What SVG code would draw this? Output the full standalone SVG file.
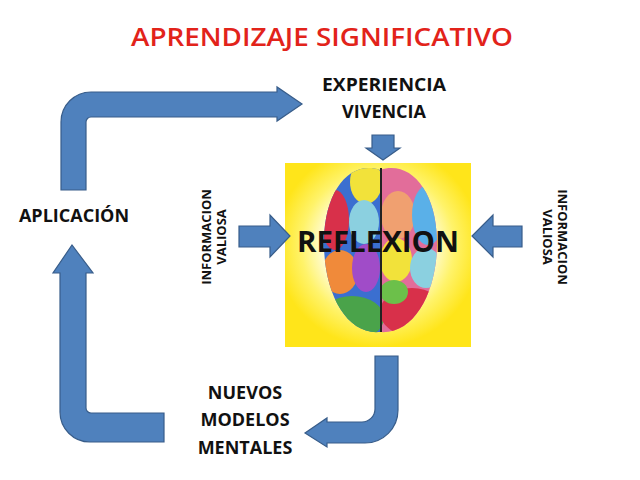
<svg xmlns="http://www.w3.org/2000/svg" width="640" height="480" viewBox="0 0 640 480">
<style>
.a{fill:#4f81bd;stroke:#385d8a;stroke-width:1.2}
.t{font-family:"Open Sans","Liberation Sans",sans-serif;font-weight:bold;fill:#111;text-anchor:middle}
</style>
<defs>
<radialGradient id="g" cx="0.5" cy="0.45" r="0.55">
<stop offset="0.45" stop-color="#ffffff"/><stop offset="0.75" stop-color="#fff36a"/><stop offset="1" stop-color="#ffe51a"/>
</radialGradient>
<clipPath id="c"><path d="M380,170 C350,160 325,190 324,240 C323,290 345,335 380,332 C415,335 438,290 437,240 C436,190 410,160 380,170 Z"/></clipPath>
</defs>
<rect width="640" height="480" fill="#fff"/>
<text x="322" y="46" font-family="Open Sans,Liberation Sans,sans-serif" font-weight="600" font-size="26" fill="#e2231a" text-anchor="middle" textLength="382" lengthAdjust="spacingAndGlyphs">APRENDIZAJE SIGNIFICATIVO</text>
<g id="reflexion">
<rect x="285" y="163" width="186" height="184" fill="url(#g)"/>
<g clip-path="url(#c)">
<rect x="320" y="160" width="61" height="180" fill="#3b6fd0"/>
<rect x="381" y="160" width="62" height="180" fill="#e26d9a"/>
<ellipse cx="366" cy="182" rx="16" ry="22" fill="#f2e23a"/>
<ellipse cx="335" cy="220" rx="14" ry="30" fill="#d8304a"/>
<ellipse cx="364" cy="222" rx="15" ry="22" fill="#8bd0e0"/>
<ellipse cx="340" cy="272" rx="18" ry="22" fill="#f08a3a"/>
<ellipse cx="366" cy="268" rx="14" ry="24" fill="#a04cc8"/>
<ellipse cx="352" cy="318" rx="32" ry="22" fill="#4aa34a"/>
<ellipse cx="398" cy="215" rx="17" ry="24" fill="#f0a070"/>
<ellipse cx="428" cy="215" rx="16" ry="30" fill="#5ab0e8"/>
<ellipse cx="396" cy="260" rx="16" ry="22" fill="#f2e23a"/>
<ellipse cx="426" cy="268" rx="16" ry="20" fill="#8bd0e0"/>
<ellipse cx="412" cy="312" rx="32" ry="24" fill="#d8304a"/>
<ellipse cx="394" cy="292" rx="14" ry="12" fill="#6cc04a"/>
</g>
<line x1="381" y1="168" x2="381" y2="332" stroke="#222" stroke-width="2"/>
<text class="t" x="378" y="252" font-size="29" textLength="162" lengthAdjust="spacingAndGlyphs">REFLEXION</text>
</g>
<g id="connectors">
<path class="a" d="M61,190 V122 A30,30 0 0 1 91,92 H277 V87 L302,104 L277,121 V117 H91 A5,5 0 0 0 86,122 V190 Z"/>
<path class="a" d="M164,413 H91 A5,5 0 0 1 86,408 V273 H93 L72,245 L53,273 H60 V412 A30,30 0 0 0 90,442 H164 Z"/>
<path class="a" d="M375,356 H398 V410 A33,33 0 0 1 365,443 H327 V447 L305,433 L327,418 V422 H362 A13,13 0 0 0 375,409 Z"/>
<path class="a" d="M372,135 H394 V148 H400 L383,160 L366,148 H372 Z"/>
<path class="a" d="M239,226 H270 V215 L290,236 L270,257 V247 H239 Z"/>
<path class="a" d="M522,226 H493 V215 L472,236 L493,257 V247 H522 Z"/>
</g>
<g id="experiencia"><text class="t" x="384" y="91" font-size="18" textLength="124" lengthAdjust="spacingAndGlyphs">EXPERIENCIA</text><text class="t" x="384" y="118" font-size="18">VIVENCIA</text></g>
<g id="aplicacion"><text class="t" x="74" y="222" font-size="18">APLICACIÓN</text></g>
<g id="nuevos"><text class="t" x="245" y="399" font-size="18">NUEVOS</text><text class="t" x="245" y="426" font-size="18">MODELOS</text><text class="t" x="245" y="454" font-size="18">MENTALES</text></g>
<g id="info-left" transform="translate(214,237) rotate(-90)"><text class="t" x="0" y="-3" font-size="13">INFORMACION</text><text class="t" x="0" y="12" font-size="13">VALIOSA</text></g>
<g id="info-right" transform="translate(555,237) rotate(90)"><text class="t" x="0" y="-3" font-size="13">INFORMACION</text><text class="t" x="0" y="12" font-size="13">VALIOSA</text></g>
</svg>
